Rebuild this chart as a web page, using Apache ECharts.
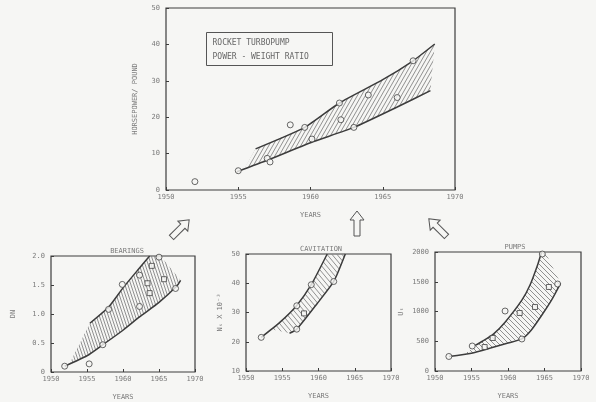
<!DOCTYPE html>
<html>
<head>
<meta charset="utf-8">
<script src="https://cdn.jsdelivr.net/npm/echarts@6/dist/echarts.min.js"></script>
<style>
  html, body { margin: 0; padding: 0; background: #f6f6f4; }
  #main { width: 596px; height: 402px; }
</style>
</head>
<body>
<div id="main"></div>
<script>
  // rocket turbopump power - weight ratio (top)
  const turboPoints = [[1952, 2.3], [1955, 5.3], [1957, 8.7], [1957.2, 7.7], [1958.6, 17.9], [1959.6, 17.2], [1960.1, 14], [1962, 23.9], [1962.1, 19.3], [1963, 17.2], [1964, 26.1], [1966, 25.4], [1967.1, 35.5]];
  const turboUpper = [[1956.2, 11.3], [1959.6, 17.2], [1962, 23.9], [1965, 30.3], [1967.1, 35.5], [1968.6, 40.1]];
  const turboLower = [[1954.9, 5.0], [1957.1, 8.3], [1960, 13.0], [1963, 17.2], [1966, 22.8], [1968.3, 27.3]];
  const turboBandStart = [1955.4, 5.6];

  // bearings
  const bearCircles = [[1951.9, 0.10], [1955.3, 0.14], [1957.2, 0.47], [1958, 1.08], [1959.9, 1.51], [1962.3, 1.13], [1962.3, 1.67], [1965, 1.98], [1967.3, 1.44]];
  const bearSquares = [[1963.4, 1.53], [1963.7, 1.36], [1964, 1.83], [1965.7, 1.60]];
  const bearUpper = [[1955.4, 0.84], [1958, 1.12], [1960, 1.45], [1962, 1.75], [1963.7, 2.0]];
  const bearLower = [[1951.9, 0.10], [1955, 0.28], [1957.2, 0.47], [1960, 0.72], [1962.3, 0.95], [1965, 1.2], [1967.3, 1.46], [1968, 1.58]];
  const bearBandStart = [1952.6, 0.15];
  const bearBandTop = [1965.2, 2.0];

  // cavitation
  const cavCircles = [[1952.1, 21.5], [1957, 24.3], [1957, 32.3], [1959, 39.5], [1962.1, 40.6]];
  const cavSquares = [[1958, 29.7]];
  const cavUpper = [[1952.1, 21.5], [1954.7, 26.7], [1957, 32.4], [1959, 39.5], [1961.2, 50]];
  const cavLower = [[1956, 22.9], [1957, 24.3], [1959.8, 33.0], [1962.1, 40.6], [1963.7, 50]];
  const cavBandStart = [1953.5, 24.3];

  // pumps
  const pumpCircles = [[1951.9, 244], [1955.1, 420], [1959.6, 1008], [1961.9, 538], [1964.7, 1966], [1966.8, 1462]];
  const pumpSquares = [[1956.8, 403], [1957.9, 555], [1961.6, 975], [1963.7, 1076], [1965.6, 1412]];
  const pumpUpper = [[1955.5, 430], [1956.5, 500], [1958, 620], [1959.6, 820], [1961.9, 1190], [1963, 1440], [1964.1, 1800], [1964.6, 2000]];
  const pumpLower = [[1951.9, 244], [1955, 300], [1957.6, 385], [1960, 470], [1961.9, 540], [1963.2, 690], [1964.8, 970], [1966, 1200], [1967.2, 1474]];
  const pumpBandStart = [1954.1, 290];
  const pumpBandTop = [1965.1, 2000];

  const ink = '#3c3c3c';
  const txt = '#7a7a7a';
  const font = 'DejaVu Sans Mono';

  function hatch(w, h, dir) {
    const c = document.createElement('canvas');
    c.width = w; c.height = h;
    const g = c.getContext('2d');
    g.strokeStyle = '#858585';
    g.lineWidth = 0.9;
    for (let k = -1; k <= 1; k++) {
      g.beginPath();
      if (dir > 0) { g.moveTo(k * w - w, 2 * h); g.lineTo(k * w + 2 * w, -h); }
      else { g.moveTo(k * w - w, -h); g.lineTo(k * w + 2 * w, 2 * h); }
      g.stroke();
    }
    return { image: c, repeat: 'repeat' };
  }

  const rev = (arr, minX) => arr.filter(p => p[0] >= minX).slice().reverse();

  const turboBand = [turboBandStart].concat(turboUpper, rev(turboLower, 1955.5));
  const bearBand = [bearBandStart].concat(bearUpper, [bearBandTop], rev(bearLower, 1952.7));
  const cavBand = [cavBandStart].concat(cavUpper.filter(p => p[0] > 1953.5), rev(cavLower, 0));
  const pumpBand = [pumpBandStart].concat(pumpUpper, [pumpBandTop], rev(pumpLower, 1954.2));

  function bandSeries(idx, pts, fill) {
    return {
      type: 'custom', xAxisIndex: idx, yAxisIndex: idx, silent: true, z: 1,
      data: [[pts[0][0], pts[0][1]]],
      renderItem: function (params, api) {
        return {
          type: 'polygon',
          shape: { points: pts.map(p => api.coord(p)) },
          style: { fill: fill, stroke: null }
        };
      }
    };
  }

  function curve(idx, data) {
    return {
      type: 'line', xAxisIndex: idx, yAxisIndex: idx, data: data,
      showSymbol: false, smooth: 0.2, silent: true, z: 3,
      lineStyle: { color: ink, width: 1.5 }
    };
  }

  function marks(idx, data, symbol, size) {
    return {
      type: 'scatter', xAxisIndex: idx, yAxisIndex: idx, data: data,
      symbol: symbol, symbolSize: size, z: 4,
      itemStyle: { color: '#f6f6f4', borderColor: '#444', borderWidth: 1 }
    };
  }

  function xAx(idx, gap) {
    return {
      type: 'value', gridIndex: idx, min: 1950, max: 1970, interval: 5,
      name: 'YEARS', nameLocation: 'middle', nameGap: gap,
      nameTextStyle: { color: txt, fontFamily: font, fontSize: 7 },
      axisLine: { show: false },
      axisTick: { show: true, inside: true, length: 3, lineStyle: { color: ink } },
      axisLabel: { color: txt, fontFamily: font, fontSize: 7, margin: 4, formatter: v => String(v) },
      splitLine: { show: false }
    };
  }

  function yAx(idx, min, max, step, name, gap, fmt) {
    return {
      type: 'value', gridIndex: idx, min: min, max: max, interval: step,
      name: name, nameLocation: 'middle', nameGap: gap,
      nameTextStyle: { color: txt, fontFamily: font, fontSize: 7 },
      axisLine: { show: false },
      axisTick: { show: true, inside: true, length: 3, lineStyle: { color: ink } },
      axisLabel: { color: txt, fontFamily: font, fontSize: 7, margin: 6, formatter: fmt || (v => String(v)) },
      splitLine: { show: false }
    };
  }

  function arrow(x, y, rot) {
    return {
      type: 'polygon', x: x, y: y, rotation: rot,
      shape: { points: [[0, -13], [7, -4], [3, -4], [3, 12], [-3, 12], [-3, -4], [-7, -4]] },
      style: { fill: 'none', stroke: '#555', lineWidth: 1 }
    };
  }

  const chart = echarts.init(document.getElementById('main'));
  const option = {
    backgroundColor: '#f6f6f4',
    animation: false,
    title: [
      { text: 'BEARINGS', left: 122, top: 243, textAlign: 'center', textStyle: { color: txt, fontFamily: font, fontSize: 7, fontWeight: 'normal' } },
      { text: 'CAVITATION', left: 316, top: 241, textAlign: 'center', textStyle: { color: txt, fontFamily: font, fontSize: 7, fontWeight: 'normal' } },
      { text: 'PUMPS', left: 510, top: 239, textAlign: 'center', textStyle: { color: txt, fontFamily: font, fontSize: 7, fontWeight: 'normal' } }
    ],
    grid: [
      { left: 166, top: 8, width: 289, height: 182, show: true, borderColor: ink, borderWidth: 1.2 },
      { left: 51, top: 256, width: 144, height: 116, show: true, borderColor: ink, borderWidth: 1.2 },
      { left: 246, top: 254, width: 145, height: 117, show: true, borderColor: ink, borderWidth: 1.2 },
      { left: 435, top: 252, width: 146, height: 119, show: true, borderColor: ink, borderWidth: 1.2 }
    ],
    xAxis: [xAx(0, 22), xAx(1, 22), xAx(2, 22), xAx(3, 22)],
    yAxis: [
      yAx(0, 0, 50, 10, 'HORSEPOWER/ POUND', 27),
      yAx(1, 0, 2, 0.5, 'DN', 34, v => v === 0 ? '0' : v.toFixed(1)),
      yAx(2, 10, 50, 10, 'Nₛ X 10⁻³', 22),
      yAx(3, 0, 2000, 500, 'Uₜ', 30)
    ],
    graphic: [
      {
        type: 'group', left: 206, top: 32,
        children: [
          { type: 'rect', shape: { x: 0, y: 0, width: 126, height: 33 }, style: { fill: '#f6f6f4', stroke: '#555', lineWidth: 1 } },
          { type: 'text', x: 6, y: 6, style: { text: 'ROCKET TURBOPUMP', fill: '#666', font: '8px "DejaVu Sans Mono"' } },
          { type: 'text', x: 6, y: 20, style: { text: 'POWER - WEIGHT RATIO', fill: '#666', font: '8px "DejaVu Sans Mono"' } }
        ]
      },
      arrow(180, 229, -Math.PI / 4),
      arrow(357, 224, 0),
      arrow(438, 228, Math.PI / 4)
    ],
    series: [
      bandSeries(0, turboBand, hatch(4, 7, 1)),
      curve(0, turboUpper),
      curve(0, turboLower),
      marks(0, turboPoints, 'circle', 6),

      bandSeries(1, bearBand, hatch(3, 9, -1)),
      curve(1, bearUpper),
      curve(1, bearLower),
      marks(1, bearCircles, 'circle', 6),
      marks(1, bearSquares, 'rect', 5),

      bandSeries(2, cavBand, hatch(5, 6, -1)),
      curve(2, cavUpper),
      curve(2, cavLower),
      marks(2, cavCircles, 'circle', 6),
      marks(2, cavSquares, 'rect', 5),

      bandSeries(3, pumpBand, hatch(5, 5, -1)),
      curve(3, pumpUpper),
      curve(3, pumpLower),
      marks(3, pumpCircles, 'circle', 6),
      marks(3, pumpSquares, 'rect', 5)
    ]
  };
  chart.setOption(option);
</script>
</body>
</html>
